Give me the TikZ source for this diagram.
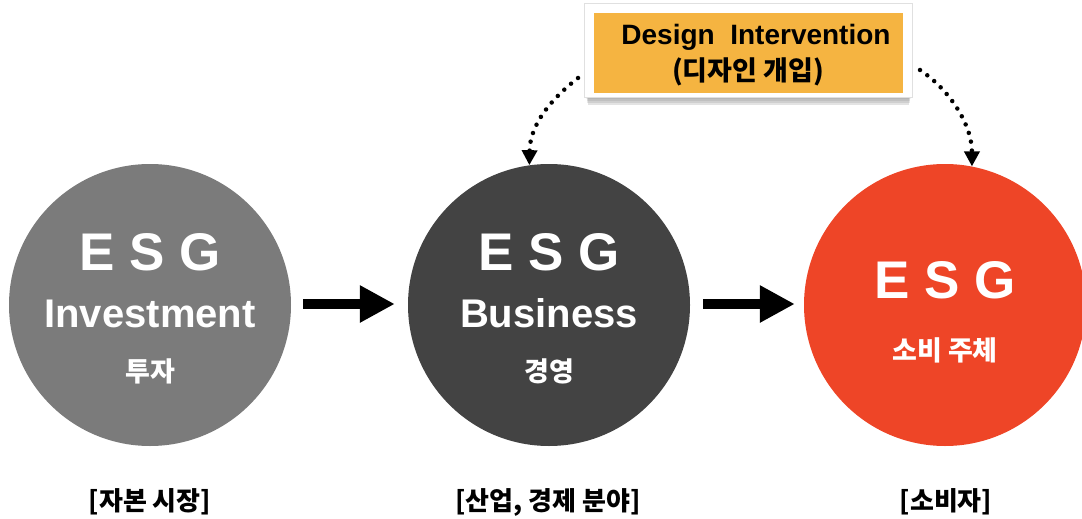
\documentclass[tikz,border=0pt]{standalone}
\usepackage{fontspec}
\setmainfont{Liberation Sans}
\newfontfamily\kr{Noto Sans CJK KR}
\usetikzlibrary{arrows.meta}
\definecolor{cgray}{HTML}{7B7B7B}
\definecolor{cdark}{HTML}{434343}
\definecolor{cred}{HTML}{EE4527}
\definecolor{corange}{HTML}{F5B441}
\begin{document}
\begin{tikzpicture}[x=1pt,y=-1pt,
  disc/.style={circle, minimum size=282pt, inner sep=0pt},
  esg/.style={anchor=base, text=white, font=\fontsize{53}{60}\selectfont\bfseries},
  eng/.style={anchor=base, text=white, font=\fontsize{40}{46}\selectfont\bfseries},
  kor/.style={anchor=base, text=white, font=\kr\fontsize{27}{32}\selectfont\bfseries},
  lbl/.style={anchor=base, text=black, font=\kr\fontsize{26}{30}\selectfont\bfseries},
  bigarrow/.style={line width=10pt, -{Triangle[width=35pt,length=35pt]}},
  dotarrow/.style={line width=4.5pt, line cap=round, dash pattern=on 0pt off 9pt, -{Triangle[width=15pt,length=15pt]}},
]
\useasboundingbox (0,0) rectangle (1082,519);
% circles
\node[disc, fill=cgray] (inv) at (150,305) {};
\node[disc, fill=cdark] (bus) at (549,305) {};
\node[disc, fill=cred] (con) at (945,305) {};
% circle texts
\node[esg] (invE) at (150,270) {E S G};
\node[eng] (invT) at (150,327) {Investment};
\node[kor] (invK) at (150,381) {투자};
\node[esg] (busE) at (549,270) {E S G};
\node[eng] (busT) at (549,327) {Business};
\node[kor] (busK) at (549,381) {경영};
\node[esg] (conE) at (945,298) {E S G};
\node[kor] (conK) at (945,360) {소비 주체};
% bottom labels
\node[lbl] (l1) at (150,510) {[자본 시장]};
\node[lbl] (l2) at (548,510) {[산업, 경제 분야]};
\node[lbl] (l3) at (946,510) {[소비자]};
% big arrows
\draw[bigarrow, shorten <=12pt, shorten >=13pt] (inv.east |- 0,304) -- (bus.west |- 0,304);
\draw[bigarrow, shorten <=13pt, shorten >=9pt] (bus.east |- 0,304) -- (con.west |- 0,304);
% design intervention box with shadow and frame
\foreach \i/\o in {0/0.05,2/0.07,4/0.09,6/0.11} {
  \fill[black, opacity=\o] (586+\i*0.3,6+\i) rectangle (911-\i*0.3,99+\i);
}
\fill[white] (584,3) rectangle (912,97);
\draw[black!12, line width=0.6pt] (584,3) rectangle (912,97);
\node[fill=corange, minimum width=309pt, minimum height=80pt, inner sep=0pt] (box) at (748.5,53) {};
\node[anchor=base, font=\fontsize{28}{32}\selectfont\bfseries] (boxE) at (756,45) {Design\ \ Intervention};
\node[anchor=base, font=\kr\fontsize{27}{31}\selectfont\bfseries] (boxK) at (748,81) {(디자인 개입)};
% dotted connectors
\coordinate (dl) at (578,78);
\coordinate (dr) at (920,70);
\draw[dotarrow] (dl) .. controls (550,100) and (530,125) .. (bus.98);
\draw[dotarrow] (dr) .. controls (950,90) and (972,125) .. (con.79);
\end{tikzpicture}
\end{document}
